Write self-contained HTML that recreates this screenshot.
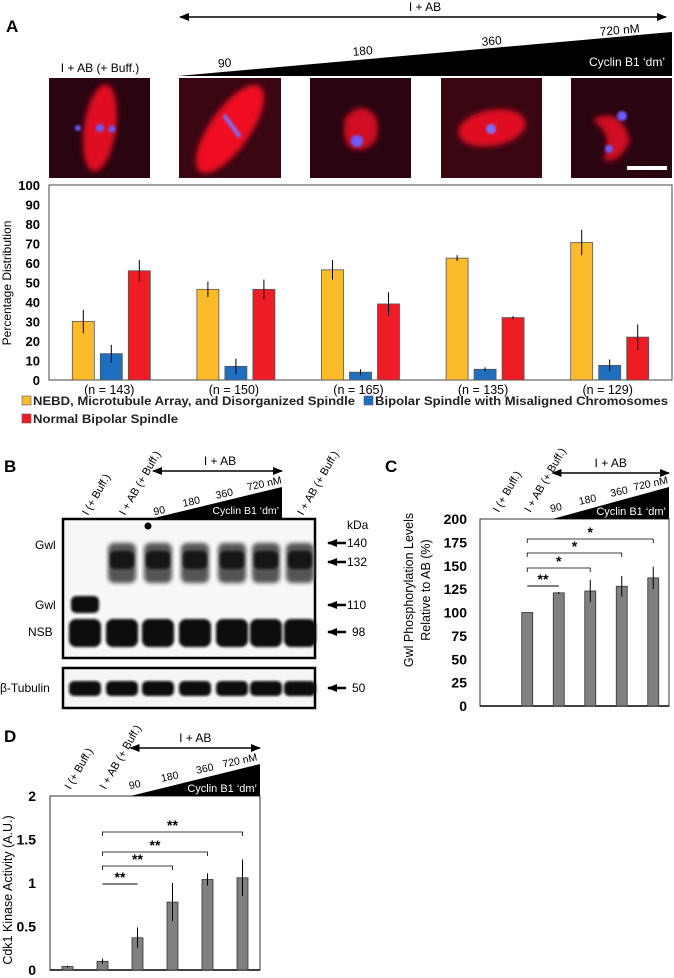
<!DOCTYPE html>
<html><head><meta charset="utf-8"><style>
html,body{margin:0;padding:0;background:#fff;}
svg{display:block;font-family:"Liberation Sans",Arial,sans-serif;}
</style></head><body>
<svg id="fig" width="674" height="978" viewBox="0 0 674 978" xmlns="http://www.w3.org/2000/svg">
<defs>
<filter id="blur3"><feGaussianBlur stdDeviation="3"/></filter>
<filter id="blur1"><feGaussianBlur stdDeviation="1.2"/></filter>
<filter id="blur2"><feGaussianBlur stdDeviation="2"/></filter>
<marker id="ah" markerUnits="userSpaceOnUse" markerWidth="10" markerHeight="8" refX="9" refY="4" orient="auto"><path d="M0,0 L10,4 L0,8 z" fill="#000"/></marker>
<marker id="ahs" markerUnits="userSpaceOnUse" markerWidth="10" markerHeight="8" refX="1" refY="4" orient="auto"><path d="M10,0 L0,4 L10,8 z" fill="#000"/></marker>
</defs>

<text x="6" y="32" font-size="17" font-weight="bold">A</text>
<line x1="180" y1="17" x2="666" y2="17" stroke="#000" stroke-width="1.5" marker-start="url(#ahs)" marker-end="url(#ah)"/>
<text x="425" y="11" font-size="12" text-anchor="middle">I + AB</text>
<polygon points="178,76 672,76 672,32" fill="#000"/>
<text x="665" y="66" font-size="12" fill="#fff" text-anchor="end">Cyclin B1 ‘dm’</text>
<text x="225" y="67" font-size="12" text-anchor="middle" transform="rotate(-5 225 67)">90</text>
<text x="363" y="55" font-size="12" text-anchor="middle" transform="rotate(-5 363 55)">180</text>
<text x="492" y="45" font-size="12" text-anchor="middle" transform="rotate(-5 492 45)">360</text>
<text x="620" y="34" font-size="12" text-anchor="middle" transform="rotate(-5 620 34)">720 nM</text>
<text x="100" y="72" font-size="12" text-anchor="middle">I + AB (+ Buff.)</text>

<g>
<rect x="49" y="78" width="101" height="100" fill="#2a0410"/>
<ellipse cx="100" cy="128" rx="16" ry="44" fill="#e01020" transform="rotate(8 100 128)" filter="url(#blur3)"/>
<circle cx="100" cy="128" r="4" fill="#6a5cff" filter="url(#blur1)"/><circle cx="112" cy="129" r="3.5" fill="#6a5cff" filter="url(#blur1)"/><circle cx="78" cy="128" r="3" fill="#6a5cff" filter="url(#blur1)"/>
</g>
<g>
<rect x="179" y="78" width="102" height="100" fill="#3a0612"/>
<ellipse cx="230" cy="129" rx="20" ry="52" fill="#f01020" transform="rotate(35 230 129)" filter="url(#blur3)"/>
<line x1="224" y1="115" x2="240" y2="137" stroke="#7a70ff" stroke-width="4" filter="url(#blur1)"/>
</g>
<g>
<rect x="310" y="78" width="101" height="100" fill="#2a0410"/>
<path d="M345,118 Q360,100 375,115 Q385,145 360,150 Q340,150 345,118" fill="#d01020" filter="url(#blur3)"/>
<circle cx="357" cy="141" r="6" fill="#6a5cff" filter="url(#blur1)"/>
</g>
<g>
<rect x="441" y="78" width="101" height="100" fill="#3a0612"/>
<ellipse cx="492" cy="128" rx="34" ry="18" fill="#e01020" transform="rotate(-10 492 128)" filter="url(#blur3)"/>
<circle cx="491" cy="129" r="5" fill="#7a70ff" filter="url(#blur1)"/>
</g>
<g>
<rect x="571" y="78" width="101" height="100" fill="#2a0410"/>
<path d="M592,120 Q620,105 630,140 Q620,165 603,160 Q615,135 592,120" fill="#d01020" filter="url(#blur3)"/>
<circle cx="622" cy="116" r="5" fill="#6a5cff" filter="url(#blur1)"/><circle cx="609" cy="149" r="4" fill="#6a5cff" filter="url(#blur1)"/>
<rect x="627" y="166" width="40" height="4" fill="#fff"/>
</g>

<g id="chartA"></g>

<text x="4" y="472" font-size="17" font-weight="bold">B</text>
<g id="blot"></g>

<text x="385" y="472" font-size="17" font-weight="bold">C</text>
<g id="chartC"></g>

<text x="4" y="742" font-size="17" font-weight="bold">D</text>
<g id="chartD"></g>
</svg>

<script>
const NS = "http://www.w3.org/2000/svg";
// ---- Panel A data ----
const groupsA = ["(n = 143)", "(n = 150)", "(n = 165)", "(n = 135)", "(n = 129)"];
const nebdVals = [30, 46.5, 56.5, 62.5, 70.5];
const nebdErr = [6, 4, 5, 1.5, 6.5];
const misalignedVals = [13.5, 7, 4, 5.5, 7.5];
const misalignedErr = [4.5, 4, 1.5, 1, 3];
const normalVals = [56, 46.5, 39, 32, 22];
const normalErr = [5.5, 5, 6, 0.8, 6.5];
const ticksA = [0, 10, 20, 30, 40, 50, 60, 70, 80, 90, 100];
// ---- Panel C data ----
const catsC = ["I (+ Buff.)", "I + AB (+ Buff.)", "90", "180", "360", "720 nM"];
const gwlVals = [null, 100, 121, 123, 128, 137];
const gwlErr = [0, 0, 1, 12, 11, 12];
const ticksC = [0, 25, 50, 75, 100, 125, 150, 175, 200];
const sigC = ["**", "*", "*", "*"];
// ---- Panel D data ----
const catsD = ["I (+ Buff.)", "I + AB (+ Buff.)", "90", "180", "360", "720 nM"];
const cdkVals = [0.04, 0.1, 0.37, 0.78, 1.04, 1.06];
const cdkErr = [0.01, 0.03, 0.12, 0.22, 0.07, 0.21];
const ticksD = [0, 0.5, 1, 1.5, 2];
const sigD = ["**", "**", "**", "**"];

function el(tag, attrs, parent, text) {
  const e = document.createElementNS(NS, tag);
  for (const k in attrs) e.setAttribute(k, attrs[k]);
  if (text !== undefined) e.textContent = text;
  parent.appendChild(e);
  return e;
}

(function () {
  const g = document.getElementById('chartA');
  const x0 = 49, x1 = 672, y0 = 380, y1 = 185, ymax = 100;
  const yS = v => y0 - (v / ymax) * (y0 - y1);
  const band = (x1 - x0) / groupsA.length;
  const xC = i => x0 + band * (i + 0.5);
  const frame = el('rect', { x: x0, y: y1, width: x1 - x0, height: y0 - y1, fill: 'none', stroke: '#444', 'stroke-width': 1 }, g);
  
  
  ticksA.forEach(t => {
    const tx = el('text', { x: 40, y: yS(t) + 5, 'font-size': 13, 'font-weight': 'bold', 'text-anchor': 'end' }, g, String(t));
    
    
  });
  const yt = el('text', { x: 11, y: 283, 'font-size': 12, 'text-anchor': 'middle', transform: 'rotate(-90 11 283)' }, g, 'Percentage Distribution');
  
  
  const series = [
    { v: nebdVals, e: nebdErr, c: '#fbbb2a', off: -28, n: 'nebd' },
    { v: misalignedVals, e: misalignedErr, c: '#1f6fc0', off: 0, n: 'misaligned' },
    { v: normalVals, e: normalErr, c: '#ee1c25', off: 28, n: 'normal' }];
  const bw = 22;
  series.forEach(s => {
    s.v.forEach((v, i) => {
      const cx = xC(i) + s.off;
      const r = el('rect', { x: cx - bw / 2, y: yS(v), width: bw, height: y0 - yS(v), fill: s.c, stroke: '#555', 'stroke-width': 0.8 }, g);
      
      
      const l = el('line', { x1: cx, x2: cx, y1: yS(v + s.e[i]), y2: yS(v - s.e[i]), stroke: '#000', 'stroke-width': 1 }, g);
      
      
    });
  });
  groupsA.forEach((t, i) => {
    const tx = el('text', { x: xC(i) - 2, y: 394, 'font-size': 12.5, 'text-anchor': 'middle' }, g, t);
    
    
  });
  const leg = [
    { x: 22, y: 405, c: '#fbbb2a', t: 'NEBD, Microtubule Array, and Disorganized Spindle', n: 'legend-nebd', w: 322 },
    { x: 364, y: 405, c: '#1f6fc0', t: 'Bipolar Spindle with Misaligned Chromosomes', n: 'legend-misaligned', w: 293 },
    { x: 22, y: 423, c: '#ee1c25', t: 'Normal Bipolar Spindle', n: 'legend-normal', w: 145 }];
  leg.forEach(L => {
    const lg = el('g', {}, g);
    
    
    el('rect', { x: L.x, y: L.y - 9, width: 9, height: 9, fill: L.c, stroke: '#555', 'stroke-width': 0.6 }, lg);
    el('text', { x: L.x + 11, y: L.y, 'font-size': 12.3, 'font-weight': 'bold', fill: '#222', textLength: L.w, lengthAdjust: 'spacingAndGlyphs' }, lg, L.t);
  });
})();

(function () {
  const g = document.getElementById('blot');
  const lanes = [85, 122, 158, 195, 232, 266, 300];
  el('rect', { x: 63, y: 519, width: 252, height: 139, fill: '#f7f7f7', stroke: '#000', 'stroke-width': 2.5 }, g);
  el('rect', { x: 63, y: 668, width: 252, height: 40, fill: '#f5f5f5', stroke: '#000', 'stroke-width': 2.5 }, g);
  lanes.forEach((x, i) => {
    const lg = el('g', {}, g);
    
    
    if (i === 0) {
      el('rect', { x: x - 14, y: 596, width: 28, height: 17, rx: 5, fill: '#111', filter: 'url(#blur1)' }, lg);
    } else {
      el('rect', { x: x - 14, y: 543, width: 28, height: 40, rx: 6, fill: '#555', filter: 'url(#blur2)' }, lg);
      el('rect', { x: x - 12, y: 551, width: 24, height: 18, rx: 5, fill: '#151515', filter: 'url(#blur1)' }, lg);
    }
    el('rect', { x: x - 16, y: 619, width: 32, height: 28, rx: 7, fill: '#080808', filter: 'url(#blur1)' }, lg);
    el('rect', { x: x - 16, y: 681, width: 32, height: 15, rx: 5, fill: '#111', filter: 'url(#blur1)' }, lg);
  });
  el('circle', { cx: 148, cy: 526, r: 3.5, fill: '#000' }, g);
  const lbl = [['Gwl', 35, 549], ['Gwl', 35, 609], ['NSB', 28, 636], ['β-Tubulin', 0, 692]];
  lbl.forEach(l => {
    const t = el('text', { x: l[1], y: l[2], 'font-size': 12 }, g, l[0]);
    
    
  });
  el('text', { x: 347, y: 529, 'font-size': 12 }, g, 'kDa');
  const mw = [['140', 543], ['132', 562], ['110', 605], ['98', 632], ['50', 688]];
  mw.forEach(m => {
    const mg = el('g', {}, g);
    
    
    el('line', { x1: 346, y1: m[1], x2: 328, y2: m[1], stroke: '#000', 'stroke-width': 2.5, 'marker-end': 'url(#ah)' }, mg);
    el('text', { x: m[0].length === 2 ? 352 : 347, y: m[1] + 4, 'font-size': 12 }, mg, m[0]);
  });
  const rot = [['I (+ Buff.)', 88, 516], ['I + AB (+ Buff.)', 125, 516], ['I + AB (+ Buff.)', 303, 516]];
  rot.forEach(r => {
    const t = el('text', { x: r[1], y: r[2], 'font-size': 11, transform: 'rotate(-60 ' + r[1] + ' ' + r[2] + ')' }, g, r[0]);
    
    
  });
  el('line', { x1: 153, y1: 471, x2: 282, y2: 471, stroke: '#000', 'stroke-width': 1.5, 'marker-start': 'url(#ahs)', 'marker-end': 'url(#ah)' }, g);
  el('text', { x: 220, y: 465, 'font-size': 12, 'text-anchor': 'middle' }, g, 'I + AB');
  el('polygon', { points: '150,519 282,519 282,487', fill: '#000' }, g);
  el('text', { x: 279, y: 514, 'font-size': 10.5, fill: '#fff', 'text-anchor': 'end' }, g, 'Cyclin B1 ‘dm’');
  [['90', 160, 514], ['180', 192, 505], ['360', 225, 497], ['720 nM', 265, 487]].forEach(c => {
    el('text', { x: c[1], y: c[2], 'font-size': 10.5, 'text-anchor': 'middle', transform: 'rotate(-12 ' + c[1] + ' ' + c[2] + ')' }, g, c[0]);
  });
})();

function barChart(id, cfg) {
  const g = document.getElementById(id);
  const yS = v => cfg.y0 - (v / cfg.ymax) * (cfg.y0 - cfg.y1);
  const band = (cfg.x1 - cfg.x0) / cfg.cats.length;
  const xC = i => cfg.x0 + band * (i + 0.5);
  const fr = el('rect', { x: cfg.x0, y: cfg.y1, width: cfg.x1 - cfg.x0, height: cfg.y0 - cfg.y1, fill: 'none', stroke: '#333', 'stroke-width': 1 }, g);
  
  
  el('line', { x1: cfg.x0, x2: cfg.x1, y1: cfg.y0, y2: cfg.y0, stroke: '#000', 'stroke-width': 1.5 }, g);
  cfg.ticks.forEach(t => {
    const tx = el('text', { x: cfg.tickX, y: yS(t) + 5, 'font-size': 14, 'font-weight': 'bold', 'text-anchor': 'end' }, g, String(t));
    
    
  });
  cfg.vals.forEach((v, i) => {
    if (v === null) return;
    const cx = xC(i);
    const r = el('rect', { x: cx - 5.5, y: yS(v), width: 11, height: cfg.y0 - yS(v), fill: '#808080', stroke: '#333', 'stroke-width': 0.8 }, g);
    
    
    if (cfg.err[i] > 0) {
      const l = el('line', { x1: cx, x2: cx, y1: yS(v + cfg.err[i]), y2: yS(v - cfg.err[i]), stroke: '#000', 'stroke-width': 1 }, g);
      
      
    }
  });
  cfg.sig.forEach((s, k) => {
    const xa = xC(1), xb = xC(k + 2), y = cfg.brY[k];
    const bg = el('g', {}, g);
    
    
    if (k === 0) el('line', { x1: xa, x2: xb, y1: y, y2: y, stroke: '#000', 'stroke-width': 1 }, bg);
    else el('path', { d: `M${xa},${y + 4} V${y} H${xb} V${y + 4}`, fill: 'none', stroke: '#000', 'stroke-width': 0.8 }, bg);
    el('text', { x: (xa + xb) / 2, y: y - 2, 'font-size': 14, 'text-anchor': 'middle', 'font-weight': 'bold' }, bg, s);
  });
  [[0, cfg.cats[0]], [1, cfg.cats[1]]].forEach(c => {
    const x = xC(c[0]) + 3, y = cfg.y1 - 6;
    const t = el('text', { x: x, y: y, 'font-size': 11, transform: 'rotate(-60 ' + x + ' ' + y + ')' }, g, c[1]);
    
    
  });
  const ws = xC(1) + band * 0.8;
  el('line', { x1: ws, y1: cfg.arrowY, x2: cfg.x1, y2: cfg.arrowY, stroke: '#000', 'stroke-width': 1.5, 'marker-start': 'url(#ahs)', 'marker-end': 'url(#ah)' }, g);
  el('text', { x: (ws + cfg.x1) / 2, y: cfg.arrowY - 6, 'font-size': 12, 'text-anchor': 'middle' }, g, 'I + AB');
  el('polygon', { points: `${ws},${cfg.y1} ${cfg.x1},${cfg.y1} ${cfg.x1},${cfg.y1 - 32}`, fill: '#000' }, g);
  el('text', { x: cfg.x1 - 3, y: cfg.y1 - 4, 'font-size': 11, fill: '#fff', 'text-anchor': 'end' }, g, 'Cyclin B1 ‘dm’');
  for (let i = 2; i < 6; i++) {
    const x = xC(i) - 2, y = cfg.y1 - 8 - (i - 2) * 8;
    el('text', { x: x, y: y, 'font-size': 10.5, 'text-anchor': 'middle', transform: 'rotate(-12 ' + x + ' ' + y + ')' }, g, cfg.cats[i]);
  }
}

barChart('chartC', { key: 'c', cats: catsC, vals: gwlVals, err: gwlErr, ticks: ticksC, sig: sigC,
  x0: 480, x1: 669, y0: 706, y1: 519, ymax: 200, tickX: 467, brY: [586, 568, 553, 539], arrowY: 473 });
barChart('chartD', { key: 'd', cats: catsD, vals: cdkVals, err: cdkErr, ticks: ticksD, sig: sigD,
  x0: 50, x1: 260, y0: 970, y1: 796, ymax: 2, tickX: 36, brY: [884, 866, 852, 832], arrowY: 748 });

(function () {
  const svg = document.getElementById('fig');
  const t1 = el('text', { x: 413, y: 590, 'font-size': 12.5, 'text-anchor': 'middle', transform: 'rotate(-90 413 590)' }, svg, 'Gwl Phosphorylation Levels');
  
  
  const t2 = el('text', { x: 430, y: 590, 'font-size': 12.5, 'text-anchor': 'middle', transform: 'rotate(-90 430 590)' }, svg, 'Relative to AB (%)');
  
  
  const t3 = el('text', { x: 12, y: 890, 'font-size': 12.5, 'text-anchor': 'middle', transform: 'rotate(-90 12 890)' }, svg, 'Cdk1 Kinase Activity (A.U.)');
  
  
})();
</script>
</body></html>
